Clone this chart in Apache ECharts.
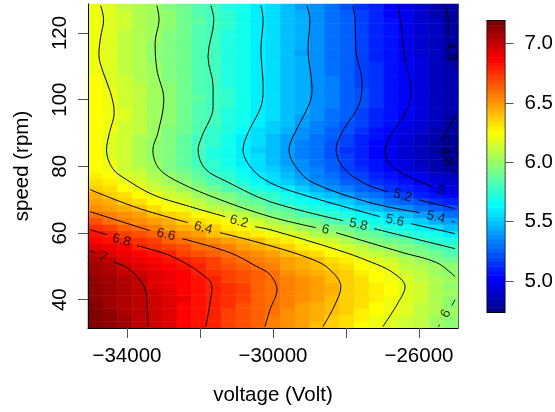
<!DOCTYPE html>
<html><head><meta charset="utf-8">
<style>html,body{margin:0;padding:0;background:#fff}#c{width:555px;height:412px}</style>
<script src="https://cdn.jsdelivr.net/npm/echarts@6/dist/echarts.min.js"></script>
</head><body><div id="c"></div>
<script>
const xTicks=[-34000,-32000,-30000,-28000,-26000];
const xLabels=[-34000,-30000,-26000];
const yTicks=[40,60,80,100,120];
const barTicks=[5,5.5,6,6.5,7];
const xRange=[-35068,-24930], yRange=[31.5,128.7], zRange=[4.74,7.19];
const palette=["#00008F","#00009F","#0000AF","#0000BF","#0000CF","#0000DF","#0000EF","#0000FF","#0010FF","#0020FF","#0030FF","#0040FF","#0050FF","#0060FF","#0070FF","#0080FF","#008FFF","#009FFF","#00AFFF","#00BFFF","#00CFFF","#00DFFF","#00EFFF","#00FFFF","#10FFEF","#20FFDF","#30FFCF","#40FFBF","#50FFAF","#60FF9F","#70FF8F","#80FF80","#8FFF70","#9FFF60","#AFFF50","#BFFF40","#CFFF30","#DFFF20","#EFFF10","#FFFF00","#FFEF00","#FFDF00","#FFCF00","#FFBF00","#FFAF00","#FF9F00","#FF8F00","#FF8000","#FF7000","#FF6000","#FF5000","#FF4000","#FF3000","#FF2000","#FF1000","#FF0000","#EF0000","#DF0000","#CF0000","#BF0000","#AF0000","#9F0000","#8F0000","#800000"];
// field values x100, bottom row first, columns left to right
const zRows=[
[718,713,708,703,698,693,688,682,677,672,667,662,657,652,647,642,637,632,627,622,618,613,608,604,599],
[718,713,708,703,698,693,688,683,677,672,667,662,657,652,647,643,638,633,628,623,619,614,609,604,600],
[717,712,707,702,698,693,688,683,678,673,668,663,658,653,648,644,640,635,630,625,621,616,611,606,602],
[716,711,707,702,698,693,688,683,679,674,669,664,659,654,650,645,641,636,631,626,622,617,611,606,600],
[715,711,706,702,697,693,689,684,679,674,670,665,660,656,651,647,642,637,632,628,623,618,612,606,600],
[714,710,705,701,697,693,688,684,679,675,670,665,661,656,652,647,643,638,633,628,624,619,613,607,601],
[713,709,704,700,696,692,688,684,679,675,670,665,660,656,651,647,643,638,633,628,624,618,612,606,599],
[713,708,704,700,695,691,687,682,678,673,669,665,660,656,651,647,642,637,632,627,623,617,611,606,601],
[711,707,702,698,693,689,685,680,676,671,667,663,658,653,649,645,640,635,630,625,621,615,610,604,599],
[708,704,699,695,690,686,682,677,673,668,664,660,656,650,645,641,636,631,626,621,616,611,606,602,597],
[704,700,695,691,687,683,679,675,670,665,661,657,652,648,643,639,633,628,622,616,612,606,601,596,591],
[700,696,692,686,682,678,673,669,664,660,656,652,648,642,637,632,627,621,615,610,605,600,594,589,584],
[694,690,685,680,675,671,666,661,658,654,650,645,640,635,630,625,620,614,609,603,598,594,589,585,580],
[688,684,679,674,670,665,661,656,652,647,643,639,634,629,623,619,613,606,600,595,590,586,580,575,570],
[683,678,673,667,662,658,652,647,642,638,633,628,623,618,613,607,602,597,592,586,581,576,571,566,561],
[675,670,664,660,655,650,645,640,635,630,625,619,614,609,604,600,594,589,583,577,573,568,562,556,549],
[666,661,657,652,648,643,638,633,628,624,619,612,606,600,595,590,585,579,573,567,562,557,552,546,540],
[660,655,651,647,642,636,631,626,621,614,608,601,595,590,585,580,575,570,565,559,553,548,542,537,531],
[653,649,644,639,633,627,621,615,611,605,600,594,588,582,576,571,566,561,554,548,542,536,531,525,521],
[648,644,638,633,627,622,616,610,604,598,592,586,579,573,568,563,558,551,544,536,531,526,521,516,510],
[643,637,632,627,620,615,609,603,598,593,586,580,574,567,560,554,547,540,534,528,522,517,512,507,501],
[637,632,627,621,615,609,603,597,591,585,579,573,566,559,552,546,539,533,527,521,516,511,506,500,495],
[634,628,622,616,610,604,598,591,585,579,572,564,558,551,544,538,532,526,520,515,510,505,500,495,491],
[630,625,618,613,607,601,594,588,581,575,568,561,555,548,541,535,529,523,517,512,507,501,497,492,487],
[627,621,615,608,602,596,590,583,577,570,564,558,552,545,538,532,526,519,513,507,502,496,490,485,480],
[626,620,614,607,601,594,587,581,574,568,562,556,549,542,536,530,524,518,511,505,500,495,488,483,478],
[625,619,613,606,600,593,586,580,573,567,561,555,548,541,535,529,523,517,510,504,499,493,487,482,477],
[625,619,612,606,600,593,586,579,572,566,560,554,547,541,535,528,522,516,509,503,498,493,487,481,477],
[625,619,613,607,600,594,587,581,574,568,561,555,548,541,535,529,523,517,510,504,498,493,487,481,476],
[625,619,613,607,601,595,588,581,575,569,562,556,549,542,536,530,524,518,511,505,499,494,488,482,477],
[626,620,614,608,602,596,589,582,576,570,564,558,551,545,538,533,527,520,514,508,502,496,490,483,478],
[627,621,615,609,603,597,590,584,578,572,566,560,553,547,541,535,529,523,517,511,505,499,492,486,480],
[627,622,616,609,604,597,591,585,579,573,567,561,555,548,542,536,530,524,518,512,507,500,494,487,481],
[627,622,616,610,604,597,592,585,579,573,567,561,555,549,543,537,531,525,519,512,507,501,494,488,482],
[627,622,615,610,604,598,592,585,580,574,568,562,556,549,543,538,532,526,520,513,508,502,495,489,482],
[626,621,615,610,604,598,592,586,580,574,568,562,556,550,544,539,532,526,520,514,508,502,496,489,482],
[626,621,614,609,604,598,591,585,580,574,568,561,556,550,544,539,532,526,520,514,508,502,496,489,483],
[625,619,613,608,603,597,591,585,579,573,567,561,556,550,544,539,532,526,519,514,508,502,496,489,483],
[624,618,612,607,602,596,590,584,579,573,567,561,556,550,544,539,532,525,519,513,508,502,495,489,483],
[623,617,611,606,601,596,590,584,579,573,567,561,556,549,544,538,531,525,519,513,507,502,495,488,482],
[622,617,611,605,601,595,589,584,578,573,567,561,555,549,544,538,531,525,519,513,507,501,494,488,482],
[621,616,610,605,600,595,589,583,578,573,567,561,555,549,543,537,531,525,518,512,507,500,494,487,481],
[621,616,610,605,600,595,589,583,578,573,567,561,555,548,542,537,530,524,518,512,506,500,493,487,480],
[621,616,610,605,600,595,589,583,578,573,567,561,555,549,543,537,530,524,518,511,506,500,493,487,480],
[622,617,611,605,601,595,589,583,578,573,567,561,555,548,543,537,530,524,518,511,505,499,493,486,480],
[622,617,611,606,601,596,590,584,579,573,567,561,555,549,543,537,530,524,517,511,505,499,492,486,479],
[622,617,612,606,602,597,591,585,580,574,568,562,556,549,543,537,530,524,518,511,505,499,493,486,480],
[623,618,612,607,602,597,591,586,581,574,568,562,556,550,544,538,531,524,517,511,505,499,492,486,480],
[623,618,612,607,602,597,591,585,580,574,568,562,556,549,543,537,530,524,517,510,504,498,491,485,479],
[622,617,611,606,601,596,590,584,579,573,567,561,555,548,542,536,529,523,516,509,503,497,490,484,478]
];
const G=[null,null];
const c48=[[-25290,128.2],[-25200,124],[-25200,119.5],G,[-25050,110.8],[-25010,109.9],G,[-24990,94.9],[-25420,87.4],G,[-25100,78.7],[-25010,78.1]];
const c50=[[-26570,128.2],[-26460,120.1],[-26380,112],[-26220,103],[-26330,97],[-26790,88.9],[-26930,84.4],[-26660,79.3],[-25640,73.9],G,[-25100,71.8],[-25010,71.5]];
const c52=[[-27810,128.2],[-27750,124],[-27730,115],[-27560,105.1],[-27620,99.1],[-28110,90.1],[-28270,85],[-28050,79.3],[-27420,74.5],[-26850,72.4],G,[-26030,70],[-25010,67.3]];
const c54=[[-29070,128.2],[-28990,124],[-29040,115],[-28930,103.6],[-28990,99.1],[-29450,88.9],[-29560,85],[-29340,79.3],[-28900,75.1],[-27340,69.1],[-25970,66.1],G,[-25100,63.5],[-25010,63.3]];
const c56=[[-30330,128.2],[-30270,124],[-30330,115],[-30270,103.9],[-30300,99.1],[-30680,90.1],[-30820,85],[-30580,79.3],[-30080,75.1],[-29180,71.5],[-27070,64.9],G,[-26220,62.8],[-25010,59.8]];
const c58=[[-31700,128.2],[-31620,124],[-31780,112.9],[-31640,103.9],[-31640,97.9],[-31950,88.9],[-32050,85],[-31860,79.3],[-31260,75.4],[-30080,69.4],[-28080,63.7],G,[-27230,61.3],[-25010,55.3]];
const c60=[[-33180,128.2],[-33120,124],[-33230,117.1],[-33180,109],[-32990,100],[-33150,90.1],[-33290,85],[-33120,79.3],[-32550,75.1],[-31450,70],[-30080,64.9],[-28820,61.6],G,[-28270,60.1],[-26440,54.1],[-25510,51.1],[-25010,46.9],G,[-25010,40],[-25100,38.2],G,[-25420,32.5],[-25480,31.9]];
const c62=[[-34720,128.2],[-34640,124],[-34720,118.9],[-34770,113.5],[-34650,108.1],[-34450,102.1],[-34350,96.1],[-34480,90.1],[-34560,85],[-34390,79.3],[-34010,76],[-33290,71.5],[-32360,68.2],[-31310,64.9],G,[-30490,61.9],[-30080,61],[-28250,55],[-27340,51.4],[-26710,48.1],[-26380,43.9],[-26570,39.1],[-26990,31.9]];
const c64=[[-35010,73],[-33730,67.6],[-32330,63.1],G,[-31450,60.1],[-30080,56.2],[-28900,52],[-28440,49],[-28140,43.9],[-28300,38.5],[-28630,31.9]];
const c66=[[-35010,66.4],[-33370,60.7],G,[-32490,58.3],[-31180,54.1],[-30440,49.9],[-30080,47.5],[-29890,43],[-30080,37],[-30220,31.9]];
const c68=[[-35010,61],[-34550,59.5],G,[-33730,56.2],[-32820,53.2],[-32000,48.1],[-31670,43.9],[-31730,38.5],[-31840,31.9]];
const c70=[[-35010,54.7],[-34880,54.1],G,[-34380,51.4],[-33920,49],[-33530,43.9],[-33450,38.5],[-33420,31.9]];
const contourLabels=[["4.8",-25120,114.4,-82],["4.8",-25240,82.9,-78],["5",-25400,72.8,-15],["5.2",-26450,71.2,-15],["5.4",-25540,64.7,-13],["5.6",-26660,63.7,-13],["5.8",-27660,62.5,-13],["6",-28560,61,-13],["6",-25260,35.8,62],["6.2",-30930,63.4,-15],["6.4",-31910,61.5,-15],["6.6",-32930,59.5,-13],["6.8",-34150,57.8,-15],["7",-34650,52.8,-25]];

const font='"Liberation Sans", Arial, sans-serif';
const fmt=v=>String(v).replace('-','\u2212');
const nCols=zRows[0].length,nRows=zRows.length;
const cells=[];
zRows.forEach((r,j)=>r.forEach((z,i)=>cells.push([i,j,z/100])));
const step=(zRange[1]-zRange[0])/palette.length;
const pieces=palette.map((color,k)=>({min:zRange[0]+k*step-(k?0:1),max:zRange[0]+(k+1)*step+(k===63?1:0),color}));
const barCells=palette.map((_,k)=>[0,k,zRange[0]+(k+.5)*step]);
const seq=n=>Array.from({length:n},(_,i)=>i);
const ax={lineStyle:{color:'#000',width:1}};
const tk={lineStyle:{color:'#555',width:1},length:10};
const lines=[c48,c50,c52,c54,c56,c58,c60,c62,c64,c66,c68,c70].map(d=>({type:'line',data:d,xAxisIndex:1,yAxisIndex:1,smooth:0.35,showSymbol:false,symbol:'none',silent:true,z:4,lineStyle:{color:'#000',width:1},connectNulls:false}));
const option={animation:false,backgroundColor:'#fff',
 grid:[{left:88,top:4,width:370,height:324,outerBoundsMode:'none'},{left:487.5,top:21,width:17,height:291,show:true,borderColor:'#000',borderWidth:2,outerBoundsMode:'none'}],
 visualMap:{type:'piecewise',show:false,dimension:2,seriesIndex:[0,14],pieces},
 xAxis:[
  {type:'category',gridIndex:0,data:seq(nCols),show:false},
  {type:'value',gridIndex:0,min:xRange[0],max:xRange[1],position:'bottom',z:6,
   axisLine:{show:true,...ax},splitLine:{show:false},
   axisTick:{show:true,...tk,customValues:xTicks},
   axisLabel:{customValues:xLabels,formatter:fmt,fontFamily:font,fontSize:20.5,color:'#000',margin:18,hideOverlap:false},
   name:'voltage (Volt)',nameLocation:'middle',nameGap:57,nameMoveOverlap:false,nameTextStyle:{fontFamily:font,fontSize:20.5,color:'#000'}},
  {type:'category',gridIndex:1,data:[0],show:false}],
 yAxis:[
  {type:'category',gridIndex:0,data:seq(nRows),show:false},
  {type:'value',gridIndex:0,min:yRange[0],max:yRange[1],position:'left',z:6,
   axisLine:{show:true,...ax},splitLine:{show:false},
   axisTick:{show:true,...tk,customValues:yTicks},
   axisLabel:{customValues:yTicks,rotate:90,fontFamily:font,fontSize:20.5,color:'#000',margin:28,verticalAlign:'middle',align:'center'},
   name:'speed (rpm)',nameLocation:'middle',nameGap:55,nameMoveOverlap:false,nameTextStyle:{fontFamily:font,fontSize:20.5,color:'#000'}},
  {type:'category',gridIndex:1,data:seq(palette.length),show:false},
  {type:'value',gridIndex:1,min:zRange[0],max:zRange[1],position:'right',
   axisLine:{show:false},splitLine:{show:false},
   axisTick:{show:true,lineStyle:{color:'#555',width:1},length:9,customValues:barTicks},
   axisLabel:{customValues:barTicks,formatter:v=>v.toFixed(1),fontFamily:font,fontSize:20.5,color:'#000',margin:20,padding:[3,0,0,0]}},
  {type:'value',gridIndex:0,min:yRange[0],max:yRange[1],position:'right',z:6,
   axisLine:{show:true,lineStyle:{color:'rgba(0,0,0,0.6)',width:1}},splitLine:{show:false},axisTick:{show:false},axisLabel:{show:false}}],
 series:[
  {type:'heatmap',data:cells,xAxisIndex:0,yAxisIndex:0,silent:true,itemStyle:{borderWidth:0},emphasis:{disabled:true},z:2},
  ...lines,
  {type:'scatter',xAxisIndex:1,yAxisIndex:1,symbolSize:0,silent:true,z:5,
   data:contourLabels.map(l=>({value:[l[1],l[2]],label:{show:true,position:'inside',formatter:l[0],rotate:l[3],fontFamily:font,fontSize:13.5,color:'#000'}}))},
  {type:'heatmap',data:barCells,xAxisIndex:2,yAxisIndex:2,silent:true,emphasis:{disabled:true},z:2}
 ]};
echarts.init(document.getElementById('c'),null,{renderer:'canvas'}).setOption(option);
</script></body></html>
